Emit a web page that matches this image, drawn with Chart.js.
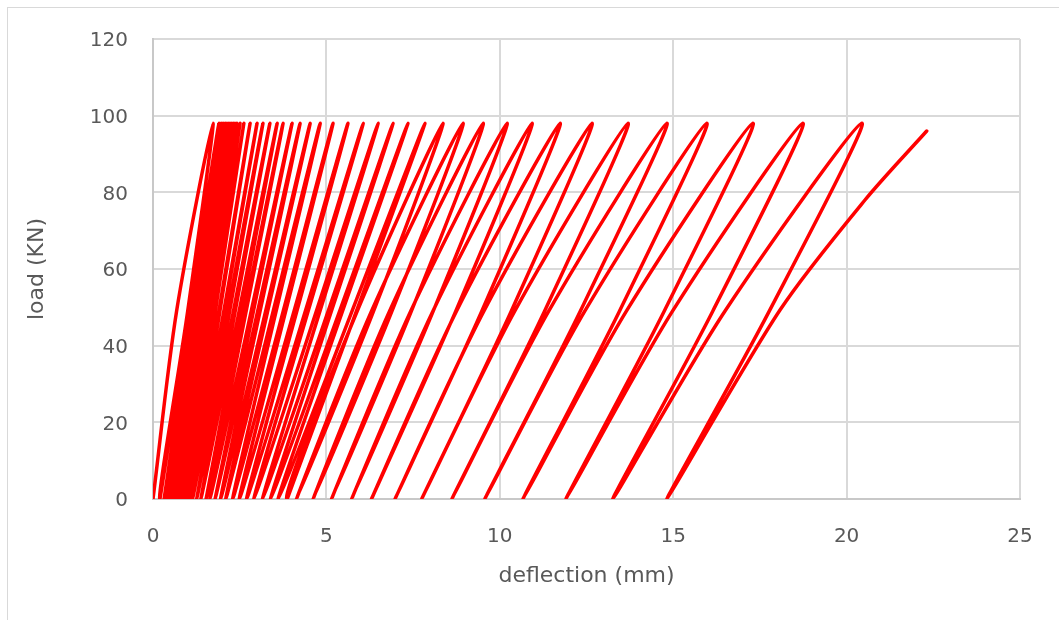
<!DOCTYPE html>
<html>
<head>
<meta charset="utf-8">
<script src="https://cdn.jsdelivr.net/npm/chart.js@4.4.1/dist/chart.umd.min.js"></script>
<style>
    html, body { margin: 0; padding: 0; background: #fff; }
    #wrap { position: relative; width: 1059px; height: 620px; overflow: hidden; }
    #frame {
        position: absolute; left: 7px; top: 7px; width: 1100px; height: 1000px;
        border-left: 1px solid #d9d9d9; border-top: 1px solid #d9d9d9;
    }
    canvas { position: absolute; left: 0; top: 0; }
</style>
</head>
<body>
<div id="wrap">
    <div id="frame"></div>
    <canvas id="chart" width="1059" height="620"></canvas>
</div>
<script>
// cyclic load test: every cycle loads to the peak and unloads back to zero
const peakLoad = 98; // KN
const midLoad = 49;  // level where the mid-branch deflections were read

// deflection at the top of each cycle (mm)
const peakDefl = [
    1.73, 1.90, 1.96, 2.02, 2.08, 2.13, 2.19, 2.25, 2.31, 2.36,
    2.42, 2.51, 2.62, 2.80, 3.00, 3.17, 3.37, 3.58, 3.75, 4.01,
    4.24, 4.53, 4.82, 5.19, 5.62, 6.06, 6.49, 6.92, 7.35, 7.84,
    8.36, 8.94, 9.52, 10.21, 10.93, 11.74, 12.66, 13.70, 14.82, 15.97,
    17.30, 18.74, 20.44
];

// residual deflection after each unloading (mm)
const residualDefl = [
    0.20, 0.32, 0.40, 0.46, 0.52, 0.58, 0.63, 0.69, 0.75, 0.81,
    0.87, 0.95, 0.99, 1.07, 1.14, 1.26, 1.38, 1.53, 1.64, 1.79,
    1.95, 2.10, 2.30, 2.49, 2.70, 2.91, 3.16, 3.39, 3.61, 3.87,
    4.14, 4.62, 5.15, 5.73, 6.30, 6.98, 7.75, 8.62, 9.57, 10.67,
    11.91, 13.26, 14.82
];

// deflection at midLoad on the loading / unloading branch (null: not read)
const loadMidDefl = [
    0.68, null, null, null, null, null, null, null, null, null,
    null, null, null, null, null, null, null, null, null, null,
    null, null, null, null, null, null, null, null, null, null,
    5.89, 6.30, 6.82, 7.43, 8.07, 8.75, 9.54, 10.43, 11.41, 12.45,
    13.65, 14.98, 16.49
];
const unloadMidDefl = [
    1.00, null, null, null, null, null, null, null, null, null,
    null, null, null, null, null, null, null, null, null, null,
    null, null, null, null, null, null, null, null, null, null,
    6.36, 6.89, 7.45, 8.08, 8.73, 9.48, 10.33, 11.29, 12.32, 13.45,
    14.74, 16.14, 17.77
];

// last loading up to failure
const finalDefl = [18.08, 20.53, 22.31];
const finalLoad = [49.3, 78.0, 96];

const xTicks = [0, 5, 10, 15, 20, 25];
const yTicks = [0, 20, 40, 60, 80, 100, 120];

function buildPoints() {
    const pts = [{ x: 0, y: 0 }];
    for (let i = 0; i < peakDefl.length; i++) {
        if (loadMidDefl[i] !== null) pts.push({ x: loadMidDefl[i], y: midLoad });
        pts.push({ x: peakDefl[i], y: peakLoad });
        if (unloadMidDefl[i] !== null) pts.push({ x: unloadMidDefl[i], y: midLoad });
        pts.push({ x: residualDefl[i], y: 0 });
    }
    for (let i = 0; i < finalDefl.length; i++) {
        pts.push({ x: finalDefl[i], y: finalLoad[i] });
    }
    return pts;
}

const textColor = '#595959';
const fontFamily = '"DejaVu Sans", sans-serif';

const ctx = document.getElementById('chart').getContext('2d');
const chart = new Chart(ctx, {
    type: 'scatter',
    data: {
        datasets: [{
            data: buildPoints(),
            showLine: true,
            borderColor: '#ff0000',
            backgroundColor: '#ff0000',
            borderWidth: 3.5,
            borderJoinStyle: 'round',
            borderCapStyle: 'round',
            pointRadius: 0,
            tension: 0.3,
        }]
    },
    options: {
        responsive: false,
        animation: false,
        layout: { padding: { left: 0, top: 39, right: 39, bottom: 0 } },
        plugins: { legend: { display: false }, tooltip: { enabled: false } },
        scales: {
            x: {
                type: 'linear',
                min: xTicks[0],
                max: xTicks[xTicks.length - 1],
                afterBuildTicks: s => { s.ticks = xTicks.map(v => ({ value: v })); },
                afterFit: s => { s.height = 121; },
                ticks: { color: textColor, font: { family: fontFamily, size: 20 }, padding: 26 },
                grid: { color: '#d9d9d9', lineWidth: 2, drawTicks: false },
                border: { color: '#c8c8c8', width: 2 },
                title: {
                    display: true,
                    text: 'deflection (mm)',
                    color: textColor,
                    font: { family: fontFamily, size: 22 },
                    padding: { top: 0, bottom: 31 }
                }
            },
            y: {
                type: 'linear',
                min: yTicks[0],
                max: yTicks[yTicks.length - 1],
                afterBuildTicks: s => { s.ticks = yTicks.map(v => ({ value: v })); },
                afterFit: s => { s.width = 153; },
                ticks: { color: textColor, font: { family: fontFamily, size: 20 }, padding: 25, labelOffset: 2 },
                grid: { color: '#d9d9d9', lineWidth: 2, drawTicks: false },
                border: { color: '#c8c8c8', width: 2 },
                title: {
                    display: true,
                    text: 'load (KN)',
                    color: textColor,
                    font: { family: fontFamily, size: 22 },
                    padding: { top: 24, bottom: 0 }
                }
            }
        }
    }
});
</script>
</body>
</html>
